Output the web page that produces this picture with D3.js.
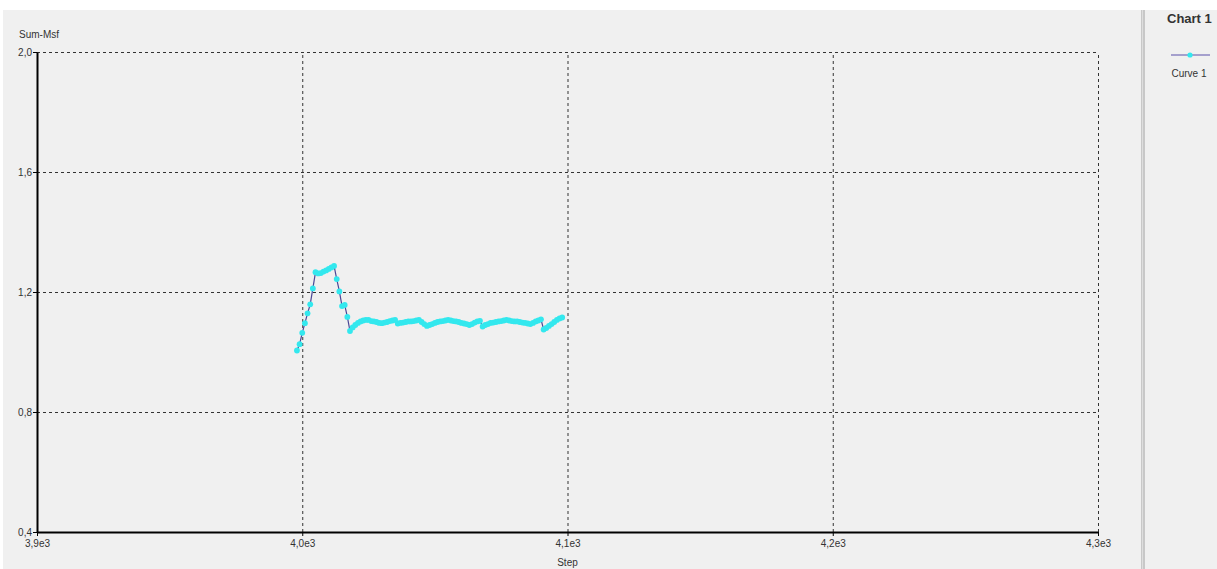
<!DOCTYPE html>
<html lang="en">
  <head>
    <meta charset="UTF-8" />
    <title>Chart 1</title>
    <style>
      body {
        margin: 0;
        background: #fff;
      }
      svg text {
        font-family: 'Liberation Sans', Arial, sans-serif;
        fill: #333;
      }
      .grid line {
        stroke: #333;
        stroke-dasharray: 3, 3;
      }
    </style>
  </head>
  <body>
    <div id="main"></div>
    <script src="https://cdn.jsdelivr.net/npm/d3@7"></script>
    <script>
      const [width, height] = [1217, 569]
      const xTicks = [3900, 4000, 4100, 4200, 4300]
      const yTicks = [0.4, 0.8, 1.2, 1.6, 2.0]
      // step 3998 .. 4098
      const startStep = 3998
      const sumMsf = [
        1.005, 1.026, 1.064, 1.096, 1.129, 1.159, 1.212, 1.266, 1.262, 1.263,
        1.268, 1.272, 1.277, 1.282, 1.287, 1.243, 1.202, 1.153, 1.157, 1.117,
        1.070, 1.082, 1.090, 1.097, 1.102, 1.105, 1.107, 1.107, 1.103, 1.102,
        1.100, 1.097, 1.096, 1.098, 1.100, 1.103, 1.105, 1.107, 1.095, 1.097,
        1.098, 1.100, 1.102, 1.102, 1.103, 1.105, 1.107, 1.100, 1.093, 1.087,
        1.090, 1.093, 1.097, 1.100, 1.102, 1.103, 1.105, 1.107, 1.105, 1.103,
        1.102, 1.100, 1.097, 1.095, 1.093, 1.090, 1.093, 1.098, 1.102, 1.104,
        1.085, 1.090, 1.093, 1.097, 1.098, 1.100, 1.102, 1.103, 1.105, 1.107,
        1.105, 1.103, 1.102, 1.102, 1.100, 1.098, 1.097, 1.095, 1.093, 1.097,
        1.102, 1.105, 1.109, 1.075, 1.080, 1.087, 1.093, 1.100, 1.107, 1.112,
        1.115
      ]
      const data = sumMsf.map((v, i) => ({ step: startStep + i, value: v }))

      const svg = d3
        .select('#main')
        .append('svg')
        .attr('width', width)
        .attr('height', height)

      // window background
      svg.append('rect').attr('x', 3).attr('y', 10).attr('width', width - 3).attr('height', height - 10).attr('fill', '#f0f0f0')
      // splitter between chart and legend
      svg.append('rect').attr('x', 1141).attr('y', 10).attr('width', 4).attr('height', height - 10).attr('fill', '#c8c8c8')
      svg.append('line').attr('x1', 1142.5).attr('x2', 1142.5).attr('y1', 10).attr('y2', height).attr('stroke', '#dedede')

      const plotL = 37, plotR = 1098, plotT = 52, plotB = 532

      const x = d3.scaleLinear().domain([3900, 4300]).range([plotL, plotR])
      const y = d3.scaleLinear().domain([0.4, 2.0]).range([plotB, plotT])

      // grid
      svg
        .append('g')
        .attr('class', 'grid')
        .attr('transform', `translate(0, ${plotB})`)
        .call(d3.axisBottom(x).tickValues(xTicks.slice(1)).tickSize(-(plotB - plotT)).tickFormat(''))
        .call(g => g.select('.domain').remove())
      svg
        .append('g')
        .attr('class', 'grid')
        .attr('transform', `translate(${plotL}, 0)`)
        .call(d3.axisLeft(y).tickValues(yTicks.slice(1)).tickSize(-(plotR - plotL)).tickFormat(''))
        .call(g => g.select('.domain').remove())

      // axes
      const xAxis = svg
        .append('g')
        .attr('transform', `translate(0, ${plotB})`)
        .call(
          d3.axisBottom(x).tickValues(xTicks).tickSize(4).tickSizeOuter(0)
            .tickFormat(d => (d / 1000).toFixed(1).replace('.', ',') + 'e3')
        )
      xAxis.select('.domain').attr('stroke', '#000').attr('stroke-width', 2)
      xAxis.selectAll('.tick line').attr('stroke', '#000')
      xAxis.selectAll('.tick text').attr('dy', 0).attr('y', 15).style('font-size', '10px').attr('fill', '#333')

      const yAxis = svg
        .append('g')
        .attr('transform', `translate(${plotL}, 0)`)
        .call(
          d3.axisLeft(y).tickValues(yTicks).tickSize(4).tickSizeOuter(0)
            .tickFormat(d => d.toFixed(1).replace('.', ','))
        )
      yAxis.select('.domain').attr('stroke', '#000').attr('stroke-width', 2)
      yAxis.selectAll('.tick line').attr('stroke', '#000')
      yAxis.selectAll('.tick text').attr('x', -5).style('font-size', '10px').attr('fill', '#333')

      svg.append('text').attr('x', 19).attr('y', 38).style('font-size', '10px').text('Sum-Msf')
      svg.append('text').attr('x', (plotL + plotR) / 2).attr('y', 566).attr('text-anchor', 'middle').style('font-size', '10px').text('Step')

      // curve
      const line = d3.line().x(d => x(d.step)).y(d => y(d.value))
      svg.append('path').datum(data).attr('d', line).attr('fill', 'none').attr('stroke', '#4b4796').attr('stroke-width', 1.2)
      svg
        .append('g')
        .selectAll('circle')
        .data(data)
        .join('circle')
        .attr('cx', d => x(d.step))
        .attr('cy', d => y(d.value))
        .attr('r', 2.9)
        .attr('fill', '#33e8ee')

      // legend
      svg.append('text').attr('x', 1167).attr('y', 23).style('font-size', '13px').style('font-weight', 'bold').attr('fill', '#111').text('Chart 1')
      svg.append('line').attr('x1', 1171).attr('x2', 1210).attr('y1', 55).attr('y2', 55).attr('stroke', '#5a50aa').attr('stroke-width', 1.2)
      svg.append('circle').attr('cx', 1190).attr('cy', 55).attr('r', 2.6).attr('fill', '#33e8ee')
      svg.append('text').attr('x', 1189).attr('y', 77).attr('text-anchor', 'middle').style('font-size', '10px').text('Curve 1')
    </script>
  </body>
</html>
